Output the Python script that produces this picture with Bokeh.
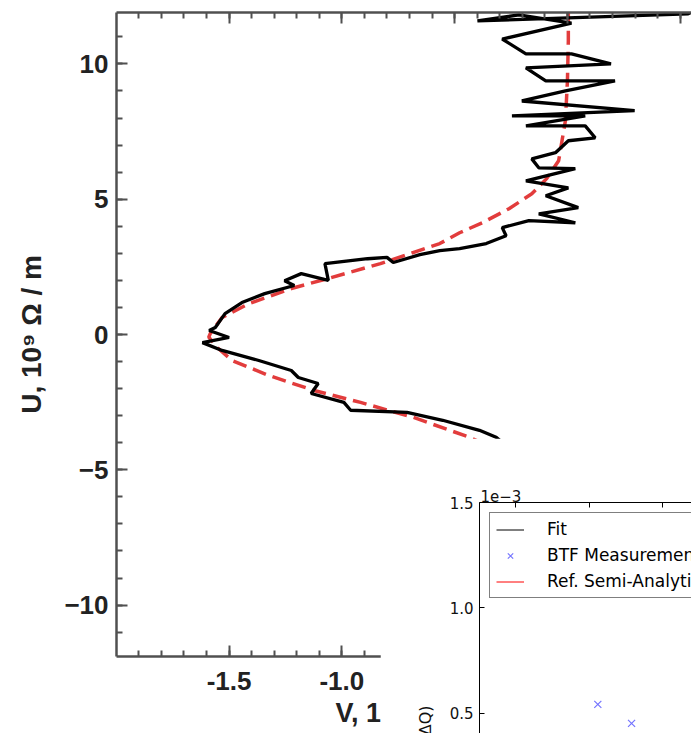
from bokeh.plotting import figure
from bokeh.models import (Range1d, LinearAxis, SingleIntervalTicker, Legend, Title,
                          LegendItem, NumeralTickFormatter)
from bokeh.embed import file_html
from bokeh.resources import INLINE

NAN = float("nan")

# ---------------- main chart data (V, 10^9 Ohm/m ; U, 10^9 Ohm/m) ----------------
meas_v = [0.575, 0.535, -0.399, -0.215, 0.018, -0.289, -0.184, 0.018, 0.193, -0.184,
          -0.096, 0.211, -0.009, -0.202, 0.298, -0.246, 0.079, -0.184, 0.079, 0.123,
          0.004, -0.053, -0.158, -0.127, 0.035, -0.184, 0.004, -0.096, 0.048, -0.127,
          0.035, -0.171, -0.289, -0.272, -0.360, -0.478, -0.566, -0.654, -0.772, -0.800,
          -0.886, -1.075, -1.060, -1.180, -1.254, -1.211, -1.342, -1.443, -1.518, -1.561,
          -1.588, -1.500, -1.618, -1.531, -1.368, -1.224, -1.193, -1.105, -1.136, -0.991,
          -0.961, -0.711, -0.553, -0.390, -0.316, -0.200, -0.100, 0.000, 0.050]
meas_u = [12.03, 11.85, 11.59, 11.81, 11.51, 10.92, 10.37, 10.37, 10.00, 9.85,
          9.37, 9.37, 9.00, 8.63, 8.27, 8.08, 8.08, 7.71, 7.71, 7.27,
          7.16, 6.72, 6.49, 6.16, 6.13, 5.68, 5.42, 5.13, 4.69, 4.46,
          4.13, 4.21, 3.95, 3.65, 3.36, 3.17, 3.10, 2.95, 2.66, 2.85,
          2.80, 2.62, 2.00, 2.25, 1.99, 1.81, 1.51, 1.18, 0.77, 0.26,
          0.15, -0.11, -0.30, -0.59, -0.96, -1.33, -1.59, -1.81, -2.18, -2.51,
          -2.80, -2.88, -3.17, -3.54, -3.80, -4.60, -5.80, -8.00, -12.00]

model_v = [0.004, 0.004, 0.000, -0.009, -0.039, -0.092, -0.158, -0.259, -0.377, -0.478,
           -0.566, -0.697, -0.829, -1.048, -1.224, -1.412, -1.531, -1.583, -1.590, -1.550,
           -1.487, -1.325, -1.123, -0.917, -0.684, -0.434, -0.250, -0.100, -0.020, 0.000]
model_u = [12.0, 10.85, 9.37, 7.90, 6.42, 5.76, 5.20, 4.65, 4.13, 3.76,
           3.36, 2.99, 2.62, 2.10, 1.70, 1.14, 0.63, 0.04, -0.10, -0.50,
           -0.96, -1.51, -2.07, -2.51, -3.06, -3.80, -4.50, -5.60, -7.00, -12.0]

main_x_title = "V, 10⁹ Ω / m"
main_y_title = "U, 10⁹ Ω / m"

# ---------------- inset chart data (x arbitrary, y in 1e-3) ----------------
btf_x = [2.12, 2.58]
btf_y = [0.543, 0.453]
fit_x, fit_y = [NAN], [NAN]
ref_x, ref_y = [NAN], [NAN]
inset_labels = ["Fit", "BTF Measurements", "Ref. Semi-Analytical"]
inset_scale = "1e−3"
inset_y_title = "Im(ΔQ)"

# ---------------- main figure ----------------
AX = "#505050"
TXT = "#222222"
FONT = "Liberation Sans"

p1 = figure(width=691, height=733, x_range=Range1d(-1.999, 0.55), y_range=Range1d(-11.9, 11.9),
            output_backend="svg", toolbar_location=None,
            min_border_left=116, min_border_top=12, min_border_right=0, min_border_bottom=77)
p1.outline_line_color = None
p1.grid.visible = False
p1.background_fill_color = "white"
p1.border_fill_color = "white"

xt = SingleIntervalTicker(interval=0.5, num_minor_ticks=5)
yt = SingleIntervalTicker(interval=5, num_minor_ticks=5)
p1.xaxis.ticker = xt
p1.yaxis.ticker = yt
p1.xaxis.formatter = NumeralTickFormatter(format="0.0")

def style_main_axis(ax, labels=True):
    ax.axis_line_color = AX
    ax.axis_line_width = 2.5
    ax.major_tick_line_color = AX
    ax.minor_tick_line_color = AX
    ax.major_tick_line_width = 2
    ax.minor_tick_line_width = 2
    ax.major_tick_in = 11
    ax.major_tick_out = 0
    ax.minor_tick_in = 6
    ax.minor_tick_out = 0
    ax.major_label_text_font = FONT
    ax.major_label_text_font_style = "bold"
    ax.major_label_text_font_size = "26px" if labels else "0px"
    ax.major_label_text_color = TXT

style_main_axis(p1.xaxis[0])
style_main_axis(p1.yaxis[0])
p1.xaxis.major_label_standoff = 15
p1.yaxis.major_label_standoff = 8
p1.yaxis.axis_label = main_y_title
p1.yaxis.axis_label_text_font = FONT
p1.yaxis.axis_label_text_font_style = "bold"
p1.yaxis.axis_label_text_font_size = "28px"
p1.yaxis.axis_label_text_color = TXT
p1.yaxis.axis_label_standoff = 14

top_ax = LinearAxis(ticker=xt)
style_main_axis(top_ax, labels=False)
top_ax.major_label_standoff = 0
p1.add_layout(top_ax, "above")

p1.line(model_v, model_u, line_color="#e23c3c", line_width=3.5, line_dash="14 7")
p1.line(meas_v, meas_u, line_color="black", line_width=3.3)

p1.add_layout(Title(text=main_x_title, align="left", offset=219, standoff=7,
                    text_font=FONT, text_font_style="bold", text_font_size="27px",
                    text_color=TXT), "below")

# ---------------- inset figure ----------------
IFONT = "DejaVu Sans"
p2 = figure(width=311, height=295, x_range=Range1d(0.507, 3.397), y_range=Range1d(0.405, 1.5),
            output_backend="svg", toolbar_location=None, x_axis_location="above",
            min_border_left=99, min_border_top=64, min_border_right=0, min_border_bottom=0)
p2.outline_line_color = None
p2.grid.visible = False
p2.background_fill_color = "white"
p2.border_fill_color = "white"

for ax in (p2.xaxis[0], p2.yaxis[0]):
    ax.axis_line_color = "black"
    ax.axis_line_width = 1
    ax.major_tick_line_color = "black"
    ax.major_tick_in = 5
    ax.major_tick_out = 0
    ax.minor_tick_line_color = None
    ax.major_label_text_font = IFONT
    ax.major_label_text_color = "#111111"
p2.xaxis.ticker = SingleIntervalTicker(interval=1, num_minor_ticks=0)
p2.xaxis.major_label_text_font_size = "0px"
p2.xaxis.major_label_standoff = 0
p2.yaxis.ticker = SingleIntervalTicker(interval=0.5, num_minor_ticks=0)
p2.yaxis.formatter = NumeralTickFormatter(format="0.0")
p2.yaxis.major_label_text_font_size = "15px"
p2.yaxis.major_label_standoff = 6

r_fit = p2.line(fit_x, fit_y, line_color="black", line_width=1)
r_btf = p2.scatter(btf_x, btf_y, marker="x", size=10, line_color="blue", line_alpha=0.55, line_width=1.2)
r_ref = p2.line(ref_x, ref_y, line_color="red", line_width=1)

legend = Legend(items=[LegendItem(label=inset_labels[0], renderers=[r_fit]),
                       LegendItem(label=inset_labels[1], renderers=[r_btf]),
                       LegendItem(label=inset_labels[2], renderers=[r_ref])],
                location="top_left", margin=10, padding=6, spacing=6,
                glyph_width=28, glyph_height=19, label_height=19, label_standoff=23,
                label_text_font=IFONT, label_text_font_size="17px", label_text_color="black",
                border_line_color="black", border_line_width=1,
                background_fill_color="white", background_fill_alpha=1.0)
p2.add_layout(legend)

p2.add_layout(Title(text=inset_scale, align="left", offset=1, standoff=2,
                    text_font=IFONT, text_font_style="normal", text_font_size="15px",
                    text_color="#111111"), "above")
p2.add_layout(Title(text=inset_y_title, align="right", offset=203, standoff=23,
                    text_font=IFONT, text_font_style="normal", text_font_size="16px",
                    text_color="#111111"), "left")

p2.styles = {"position": "absolute", "left": "380px", "top": "438px", "z-index": "10"}

open("out.html", "w").write(file_html([p1, p2], INLINE))
